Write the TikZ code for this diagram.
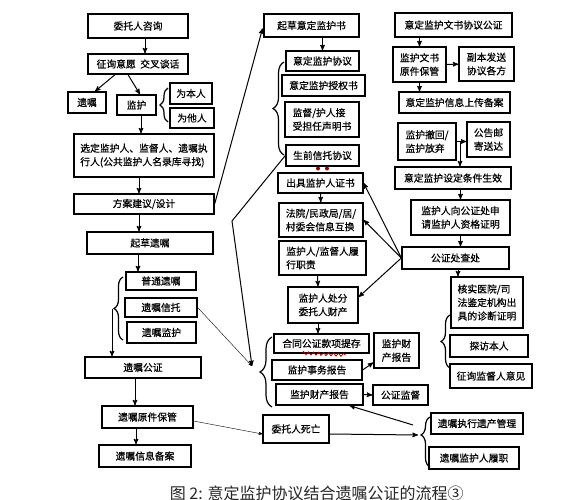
\documentclass[tikz,border=0pt]{standalone}
\usepackage{fontspec}
\setmainfont{Noto Sans CJK SC}
\newfontfamily\boxfont{Noto Sans CJK SC}[FakeBold=0.6]
\usepackage{tikz}
\usetikzlibrary{positioning, calc}
\usetikzlibrary{arrows,decorations.pathreplacing,decorations.pathmorphing}

\tikzset{
  box/.style={draw, line width=1.3pt, fill=white, inner sep=1pt, align=left,
              font=\boxfont\fontsize{9.8}{13.5}\selectfont},
  kuo/.style={-, decorate, decoration={brace, amplitude=#1}, line width=1.2pt},
  kuo/.default=9pt
}

\begin{document}
\begin{tikzpicture}[x=1pt,y=-1pt,->,>=stealth',line width=1pt]
\useasboundingbox (0,0) rectangle (581,500);

% left column: will
\node[box, minimum width=100pt, minimum height=24pt] (ask)    at (138,26)    {委托人咨询};
\node[box, minimum width=100pt, minimum height=20pt] (wish)   at (138,64)    {征询意愿\ \ 交叉谈话};
\node[box, minimum width=38pt,  minimum height=21pt] (will)   at (87,102.5)  {遗嘱};
\node[box, minimum width=39pt,  minimum height=20pt] (guard)  at (136.5,105) {监护};
\node[box, minimum width=42pt,  minimum height=21pt] (self)   at (191,93.5)  {为本人};
\node[box, minimum width=44pt,  minimum height=20pt] (other)  at (192,118)   {为他人};
\node[box, minimum width=140pt, minimum height=43pt] (choose) at (144,155.5) {选定监护人、监督人、遗嘱执\\行人(公共监护人名录库寻找)};
\node[box, minimum width=140pt, minimum height=20pt] (plan)   at (144,204)   {方案建议/设计};
\node[box, minimum width=126pt, minimum height=22pt] (draftw) at (150,243)   {起草遗嘱};
\node[box, minimum width=70pt,  minimum height=18pt] (normal) at (161,281)   {普通遗嘱};
\node[box, minimum width=72pt,  minimum height=19pt] (wtrust) at (161,307.5) {遗嘱信托};
\node[box, minimum width=69pt,  minimum height=21pt] (wguard) at (161.5,332.5) {遗嘱监护};
\node[box, minimum width=116pt, minimum height=21pt] (wnotar) at (143,367.5) {遗嘱公证};
\node[box, minimum width=91pt,  minimum height=22pt] (worig)  at (147.5,417) {遗嘱原件保管};
\node[box, minimum width=92pt,  minimum height=22pt] (wrec)   at (145,456)   {遗嘱信息备案};

% middle column: guardianship documents
\node[box, minimum width=95pt, minimum height=23pt] (draftg)  at (311.5,25.5) {起草意定监护书};
\node[box, minimum width=73pt, minimum height=20pt] (agree)   at (322.5,61)   {意定监护协议};
\node[box, minimum width=83pt, minimum height=21pt] (auth)    at (323.5,85.5) {意定监护授权书};
\node[box, minimum width=74pt, minimum height=35pt] (accept)  at (322,119.5)  {监督/护人接\\受担任声明书};
\node[box, minimum width=73pt, minimum height=21pt] (ltrust)  at (322.5,155.5) {生前信托协议};
\node[box, minimum width=85pt, minimum height=20pt] (cert)    at (320.5,183)  {出具监护人证书};
\node[box, minimum width=84pt, minimum height=34pt] (court)   at (321,220)    {法院/民政局/居/\\村委会信息互换};
\node[box, minimum width=87pt, minimum height=34pt] (duty)    at (322.5,258)  {监护人/监督人履\\行职责};
\node[box, minimum width=70pt, minimum height=36pt] (dispose) at (323,305)    {监护人处分\\委托人财产};
\node[box, minimum width=95pt, minimum height=19pt] (deposit) at (321.5,343.5) {合同公证款项提存};
\node[box, minimum width=90pt, minimum height=20pt] (affair)  at (317,370)    {监护事务报告};
\node[box, minimum width=87pt, minimum height=21pt] (prop)    at (319.5,394.5) {监护财产报告};
\node[box, minimum width=45pt, minimum height=35pt] (propr)   at (396.5,350.5) {监护财\\产报告};
\node[box, minimum width=55pt, minimum height=20pt] (superv)  at (400.5,395)  {公证监督};
\node[box, minimum width=66pt, minimum height=28pt] (death)   at (296,429)    {委托人死亡};

% right column: notarization
\node[box, minimum width=117pt, minimum height=24pt] (gnotar) at (453.5,25)   {意定监护文书协议公证};
\node[box, minimum width=53pt,  minimum height=35pt] (keep)   at (419.5,64.5) {监护文书\\原件保管};
\node[box, minimum width=55pt,  minimum height=34pt] (copy)   at (486.5,64)   {副本发送\\协议各方};
\node[box, minimum width=111pt, minimum height=21pt] (upload) at (454.5,102.5) {意定监护信息上传备案};
\node[box, minimum width=58pt,  minimum height=37pt] (revoke) at (427,141.5)  {监护撤回/\\监护放弃};
\node[box, minimum width=43pt,  minimum height=35pt] (notice) at (488.5,139.5) {公告邮\\寄送达};
\node[box, minimum width=116pt, minimum height=22pt] (effect) at (453,178)    {意定监护设定条件生效};
\node[box, minimum width=99pt,  minimum height=35pt] (apply)  at (460.5,217.5) {监护人向公证处申\\请监护人资格证明};
\node[box, minimum width=107pt, minimum height=22pt] (check)  at (455.5,258)  {公证处查处};
\node[box, minimum width=72pt,  minimum height=51pt] (verify) at (487,302.5)  {核实医院/司\\法鉴定机构出\\具的诊断证明};
\node[box, minimum width=78pt,  minimum height=22pt] (visit)  at (489,346)    {探访本人};
\node[box, minimum width=82pt,  minimum height=24pt] (askop)  at (491,376)    {征询监督人意见};
\node[box, minimum width=92pt,  minimum height=21pt] (exec)   at (477,423.5)  {遗嘱执行遗产管理};
\node[box, minimum width=90pt,  minimum height=22pt] (wduty)  at (474,458)    {遗嘱监护人履职};

% braces
\draw[kuo=8pt]  (168,122) -- (168,88);
\draw[kuo=9pt]  (123,340) -- (123,277);
\draw[kuo=11pt] (284,155) -- (284,62);
\draw[kuo=12pt] (272,407) -- (272,337);
\draw[kuo=9pt]  (450,368) -- (450,315);
\draw[-, decorate, decoration={brace, amplitude=9pt, aspect=0.64}, line width=1.2pt] (430,467) -- (430,417);

\coordinate (b2tip) at (112,308.5);
\coordinate (b4tip) at (252,366);
\coordinate (b6tip) at (418,435);
\coordinate (b6top) at (413,425);
\coordinate (bend)  at (232,221);
\coordinate (split) at (460,141.5);

\path
  ([xshift=7pt]ask.south)     edge ([xshift=7pt]wish.north)
  ([xshift=-23pt]wish.south)  edge ([xshift=8pt]will.north)
  ([xshift=-10pt]wish.south)  edge ([xshift=3.5pt]guard.north)
  ([xshift=4.5pt]guard.south) edge ([xshift=-3pt]choose.north)
  ([xshift=-5pt]choose.south) edge ([xshift=-5pt]plan.north)
  ([xshift=-5pt]plan.south)   edge ([xshift=-11pt]draftw.north)
  ([xshift=-12pt]draftw.south) edge ([xshift=-23pt]normal.north)
  (b2tip) edge (b2tip |- wnotar.north)
  ([xshift=-8pt]wnotar.south) edge ([xshift=-12.5pt]worig.north)
  ([xshift=-11.5pt]worig.south) edge ([xshift=-9pt]wrec.north);
\path
  (plan.east) edge[shorten >=3pt] (draftg.west)
  (draftg.south -| agree.north) edge (agree.north)
  (cert) edge (court)
  ([xshift=-5pt]duty.south)    edge ([xshift=-5pt]dispose.north)
  ([xshift=-5pt]dispose.south) edge ([xshift=-3.5pt]deposit.north)
  (affair.east) edge ([yshift=-12pt]propr.west)
  (prop.east)   edge (superv.west)
  (wtrust.east) edge[thin] (b4tip)
  ([yshift=-4pt]worig.east) edge[thin] ([yshift=-5pt]death.west)
  ([yshift=-5pt]death.east) edge (b6tip)
  (b6top) edge ([xshift=30pt]prop.south);
\draw (ltrust.west) -- (bend) -- (b4tip);
\path
  (gnotar.south -| keep.north) edge (keep.north)
  (keep) edge (copy)
  (keep.south) edge (keep.south |- upload.north)
  (revoke.east) edge (revoke.east -| notice.west)
  (split) edge (split |- effect.north)
  (effect.south -| apply.north) edge (apply.north)
  (apply.south) edge (apply.south |- check.north)
  (check.south -| 458,0) edge (verify.north -| 458,0)
  (check.west) edge (cert.east)
  (check.west) edge (court.east)
  (check.west) edge ([yshift=8pt]dispose.east);

% red marks
\fill[-, red!55!black] (318,168.5) circle (2pt) (327,168.5) circle (2pt);
\draw[-, red!60!black, line width=0.8pt, decorate,
      decoration={snake, amplitude=1.5pt, segment length=5pt}] (302,353) -- (346,355);

% caption
\node[anchor=west, font=\fontsize{16}{16}\selectfont, text=black!85] (cap) at (166,493)
  {图 2: 意定监护协议结合遗嘱公证的流程③};
\end{tikzpicture}
\end{document}
